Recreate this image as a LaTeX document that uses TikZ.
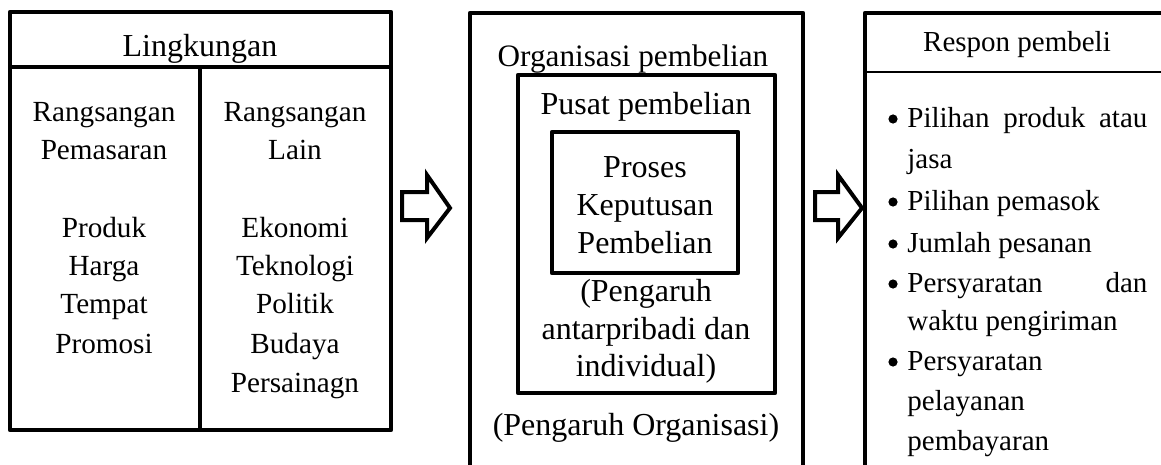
\documentclass[tikz,border=0pt]{standalone}
\usepackage{fontspec}
\setmainfont{Liberation Serif}
\begin{document}
\begin{tikzpicture}[x=0.5pt,y=-0.5pt,
  boxline/.style={line width=2.3pt,line join=round},
  thinline/.style={line width=1pt},
  blockarrow/.style={line width=2pt,line join=miter},
  txt/.style={anchor=base,inner sep=0pt,font=\fontsize{16pt}{19pt}\selectfont},
  ctxt/.style={anchor=base,inner sep=0pt,font=\fontsize{14.6pt}{18pt}\selectfont},
  rtxt/.style={anchor=base west,inner sep=0pt,font=\fontsize{14.5pt}{18pt}\selectfont},
  dot/.style={circle,fill=black,inner sep=0pt,minimum size=4.6pt}]
\useasboundingbox (0,0) rectangle (1161,465);

% ---------- Left box ----------
\draw[boxline] (10,12) rectangle (391,430);
\draw[boxline] (10,67) -- (391,67);
\draw[boxline] (200,67) -- (200,430);
\node[txt] (ling) at (200,57) {Lingkungan};
\node[ctxt] (l1) at (104,121) {Rangsangan};
\node[ctxt] (l2) at (104,159) {Pemasaran};
\node[ctxt] (l3) at (104,237) {Produk};
\node[ctxt] (l4) at (104,275) {Harga};
\node[ctxt] (l5) at (104,313) {Tempat};
\node[ctxt] (l6) at (104,353) {Promosi};
\node[ctxt] (r1) at (295,121) {Rangsangan};
\node[ctxt] (r2) at (295,159) {Lain};
\node[ctxt] (r3) at (295,237) {Ekonomi};
\node[ctxt] (r4) at (295,275) {Teknologi};
\node[ctxt] (r5) at (295,313) {Politik};
\node[ctxt] (r6) at (295,353) {Budaya};
\node[ctxt] (r7) at (295,392) {Persainagn};

% ---------- Block arrows ----------
\draw[blockarrow] (402,192) -- (427,192) -- (427,175) -- (450,208) -- (427,238) -- (427,220) -- (402,220) -- cycle;
\draw[blockarrow] (815,192) -- (838,192) -- (838,175) -- (862,208) -- (838,238) -- (838,220) -- (815,220) -- cycle;

% ---------- Middle box ----------
\draw[boxline] (470,466) -- (470,13) -- (803,13) -- (803,466);
\draw[boxline] (518,75) rectangle (775,393);
\draw[boxline] (552,132) rectangle (738,273);
\node[anchor=base,inner sep=0pt,font=\fontsize{15.6pt}{19pt}\selectfont] (org) at (633,67) {Organisasi pembelian};
\node[txt] (pusat) at (646,115) {Pusat pembelian};
\node[txt] (p1) at (645,177) {Proses};
\node[txt] (p2) at (645,215) {Keputusan};
\node[txt] (p3) at (645,253) {Pembelian};
\node[txt] (a1) at (646,301) {(Pengaruh};
\node[txt] (a2) at (646,339) {antarpribadi dan};
\node[txt] (a3) at (646,376) {individual)};
\node[txt] (po) at (636,435) {(Pengaruh Organisasi)};

% ---------- Right box ----------
\draw[boxline] (1166,13) -- (865,13) -- (865,466);
\draw[thinline] (865,72) -- (1162,72);
\node[anchor=base,inner sep=0pt,font=\fontsize{14.5pt}{18pt}\selectfont] (resp) at (1017,52) {Respon pembeli};

\node[dot] (b1) at (893,119) {};
\node[rtxt] (t1) at (907,127) {\makebox[120pt][s]{Pilihan\hfill produk\hfill atau}};
\node[rtxt] (t1b) at (907,169) {jasa};
\node[dot] (b2) at (893,202) {};
\node[rtxt] (t2) at (907,210) {Pilihan pemasok};
\node[dot] (b3) at (893,244) {};
\node[rtxt] (t3) at (907,252) {Jumlah pesanan};
\node[dot] (b4) at (893,284) {};
\node[rtxt] (t4) at (907,292) {\makebox[120pt][s]{Persyaratan\hfill dan}};
\node[rtxt] (t4b) at (907,330) {waktu pengiriman};
\node[dot] (b5) at (893,362) {};
\node[rtxt] (t5) at (907,370) {Persyaratan};
\node[rtxt] (t5b) at (907,410) {pelayanan};
\node[rtxt] (t5c) at (907,450) {pembayaran};
\end{tikzpicture}
\end{document}
